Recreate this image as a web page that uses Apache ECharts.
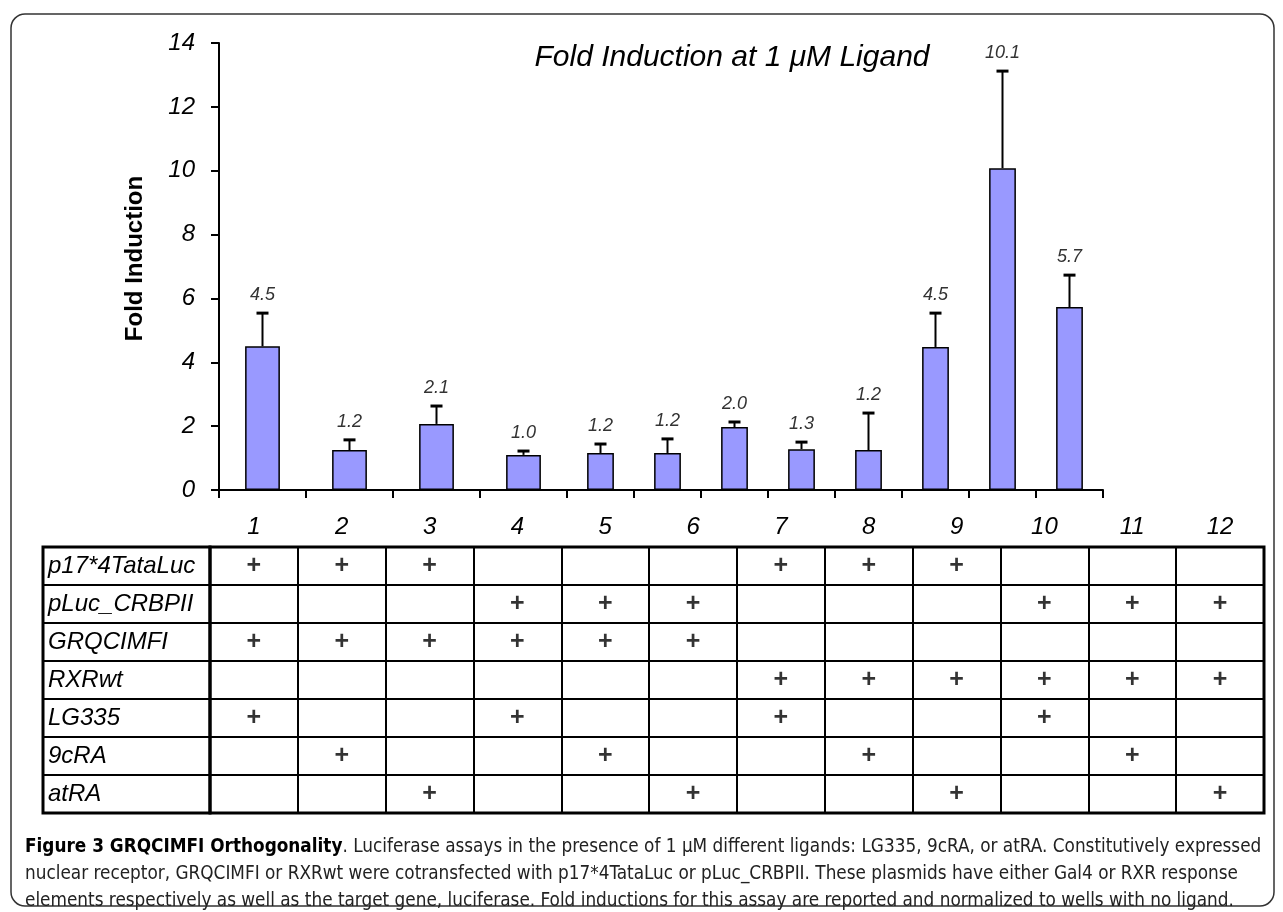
<!DOCTYPE html>
<html>
<head>
<meta charset="utf-8">
<script src="https://cdn.jsdelivr.net/npm/echarts@6/dist/echarts.min.js"></script>
<style>html,body{margin:0;padding:0;background:#fff}#c{width:1283px;height:912px}</style>
</head>
<body>
<div id="c"></div>
<script>
// ---- data ----
var categories = ['1','2','3','4','5','6','7','8','9','10','11','12'];
var foldValues = [4.50, 1.25, 2.07, 1.10, 1.16, 1.16, 1.97, 1.28, 1.25, 4.48, 10.08, 5.73];
var errorValues = [1.04, 0.32, 0.56, 0.12, 0.28, 0.44, 0.16, 0.22, 1.16, 1.06, 3.04, 1.00];
var valueLabels = ['4.5','1.2','2.1','1.0','1.2','1.2','2.0','1.3','1.2','4.5','10.1','5.7'];
var yTicks = [0, 2, 4, 6, 8, 10, 12, 14];
var rowNames = ['p17*4TataLuc','pLuc_CRBPII','GRQCIMFI','RXRwt','LG335','9cRA','atRA'];
var p17Row   = [1,1,1,0,0,0,1,1,1,0,0,0];
var pLucRow  = [0,0,0,1,1,1,0,0,0,1,1,1];
var grqRow   = [1,1,1,1,1,1,0,0,0,0,0,0];
var rxrRow   = [0,0,0,0,0,0,1,1,1,1,1,1];
var lg335Row = [1,0,0,1,0,0,1,0,0,1,0,0];
var c9Row    = [0,1,0,0,1,0,0,1,0,0,1,0];
var atRow    = [0,0,1,0,0,1,0,0,1,0,0,1];
var titleText = 'Fold Induction at 1 \u03bcM Ligand';
var yName = 'Fold Induction';
var captionBold = 'Figure 3 GRQCIMFI Orthogonality';
var captionLines = [
  '. Luciferase assays in the presence of 1 \u00b5M different ligands: LG335, 9cRA, or atRA. Constitutively expressed',
  'nuclear receptor, GRQCIMFI or RXRwt were cotransfected with p17*4TataLuc or pLuc_CRBPII. These plasmids have either Gal4 or RXR response',
  'elements respectively as well as the target gene, luciferase. Fold inductions for this assay are reported and normalized to wells with no ligand.'
];

// ---- build ----
var SPLIT = 4; // first grid holds bars 1-4, second holds 5-12
var matrix = [p17Row, pLucRow, grqRow, rxrRow, lg335Row, c9Row, atRow];
var plusData = [];
matrix.forEach(function (row, r) {
  row.forEach(function (v, c) { if (v) plusData.push([c, r]); });
});

var FONT = 'Liberation Sans, Arial, sans-serif';
var CAPFONT = 'Liberation Sans Narrow, DejaVu Sans Condensed, sans-serif';

function errRender(offset) {
  return function (params, api) {
    var i = api.value(0);
    var v = api.value(1);
    var e = api.value(2);
    var base = api.coord([i, v]);
    var top = api.coord([i, v + e]);
    var lab = valueLabels[i + offset];
    return {
      type: 'group',
      children: [
        { type: 'line', shape: { x1: base[0], y1: base[1], x2: top[0], y2: top[1] }, style: { stroke: '#000', lineWidth: 2 } },
        { type: 'line', shape: { x1: top[0] - 6, y1: top[1], x2: top[0] + 6, y2: top[1] }, style: { stroke: '#000', lineWidth: 3 } },
        { type: 'text', x: top[0], y: top[1] - 9, style: { text: lab, fill: '#333', font: 'italic 18px ' + FONT, align: 'center', verticalAlign: 'bottom' } }
      ]
    };
  };
}

function errData(from, to) {
  var out = [];
  for (var i = from; i < to; i++) out.push([i - from, foldValues[i], errorValues[i]]);
  return out;
}

var barStyle = { color: '#9999FF', borderColor: '#000', borderWidth: 1.5 };
var xBarCommon = {
  type: 'category',
  boundaryGap: true,
  axisLine: { show: true, lineStyle: { color: '#000', width: 2 } },
  axisTick: { show: true, length: 8, interval: 0, alignWithLabel: false, lineStyle: { color: '#000', width: 2 } },
  axisLabel: { show: false },
  splitLine: { show: false }
};

var option = {
  animation: false,
  backgroundColor: '#fff',
  title: [
    { text: titleText, left: 727, top: 38, textAlign: 'center',
      textStyle: { fontFamily: FONT, fontStyle: 'italic', fontWeight: 'normal', fontSize: 30, color: '#000' } },
    { text: '{b|' + captionBold + '}{n|' + captionLines[0] + '}\n{n|' + captionLines[1] + '}\n{n|' + captionLines[2] + '}',
      left: 20, top: 829,
      textStyle: {
        rich: {
          b: { fontFamily: CAPFONT, fontWeight: 'bold', fontSize: 18.8, color: '#000', lineHeight: 27 },
          n: { fontFamily: CAPFONT, fontWeight: 'normal', fontSize: 18.8, color: '#222', lineHeight: 27 }
        }
      } }
  ],
  graphic: [
    { type: 'rect', shape: { x: 11, y: 14, width: 1263, height: 892, r: 14 }, style: { fill: 'none', stroke: '#333', lineWidth: 1.5 }, silent: true, z: -1 }
  ],
  grid: [
    { left: 219, right: 1283 - 567, top: 43, bottom: 912 - 490 },
    { left: 567, right: 1283 - 1103, top: 43, bottom: 912 - 490 },
    { left: 210, right: 1283 - 1264, top: 547, bottom: 912 - 813, show: true, borderColor: '#000', borderWidth: 3, backgroundColor: 'transparent' },
    { left: 43, right: 1283 - 210, top: 547, bottom: 912 - 813, show: true, borderColor: '#000', borderWidth: 3, backgroundColor: 'transparent' }
  ],
  xAxis: [
    Object.assign({}, xBarCommon, { gridIndex: 0, data: categories.slice(0, SPLIT) }),
    Object.assign({}, xBarCommon, { gridIndex: 1, data: categories.slice(SPLIT) }),
    { gridIndex: 2, type: 'category', position: 'top', data: categories, boundaryGap: true,
      axisLine: { show: false }, axisTick: { show: false },
      axisLabel: { interval: 0, margin: 8, fontFamily: FONT, fontStyle: 'italic', fontSize: 24, color: '#000' },
      splitLine: { show: true, interval: 0, lineStyle: { color: '#000', width: 2 } } },
    { gridIndex: 3, type: 'value', show: false, min: 0, max: 1 }
  ],
  yAxis: [
    { gridIndex: 0, type: 'value', min: yTicks[0], max: yTicks[yTicks.length - 1], interval: 2,
      name: yName, nameLocation: 'middle', nameGap: 72, nameRotate: 90,
      nameTextStyle: { fontFamily: FONT, fontWeight: 'bold', fontSize: 24, color: '#000', padding: [0, 0, 0, 16] },
      axisLine: { show: true, lineStyle: { color: '#000', width: 2 } },
      axisTick: { show: true, length: 8, lineStyle: { color: '#000', width: 2 } },
      axisLabel: { margin: 24, fontFamily: FONT, fontStyle: 'italic', fontSize: 24, color: '#000' },
      splitLine: { show: false } },
    { gridIndex: 1, type: 'value', min: yTicks[0], max: yTicks[yTicks.length - 1], interval: 2, show: false },
    { gridIndex: 2, type: 'category', inverse: true, data: rowNames,
      axisLine: { show: false }, axisTick: { show: false }, axisLabel: { show: false },
      splitLine: { show: true, interval: 0, lineStyle: { color: '#000', width: 2 } } },
    { gridIndex: 3, type: 'category', inverse: true, data: rowNames,
      axisLine: { show: false }, axisTick: { show: false },
      axisLabel: { inside: true, interval: 0, margin: 5, fontFamily: FONT, fontStyle: 'italic', fontSize: 24, color: '#000' },
      splitLine: { show: true, interval: 0, lineStyle: { color: '#000', width: 2 } } }
  ],
  series: [
    { type: 'bar', xAxisIndex: 0, yAxisIndex: 0, data: foldValues.slice(0, SPLIT), barWidth: '40%', itemStyle: barStyle, z: 2 },
    { type: 'bar', xAxisIndex: 1, yAxisIndex: 1, data: foldValues.slice(SPLIT), barWidth: '40%', itemStyle: barStyle, z: 2 },
    { type: 'custom', xAxisIndex: 0, yAxisIndex: 0, renderItem: errRender(0), data: errData(0, SPLIT), encode: { x: 0, y: 1 }, z: 3 },
    { type: 'custom', xAxisIndex: 1, yAxisIndex: 1, renderItem: errRender(SPLIT), data: errData(SPLIT, categories.length), encode: { x: 0, y: 1 }, z: 3 },
    { type: 'scatter', xAxisIndex: 2, yAxisIndex: 2, data: plusData, symbolSize: 1, itemStyle: { color: 'rgba(0,0,0,0)' },
      label: { show: true, position: 'inside', formatter: '+', fontFamily: FONT, fontWeight: 'bold', fontSize: 25, color: '#000' }, z: 5 }
  ]
};

var chart = echarts.init(document.getElementById('c'), null, { renderer: 'canvas' });
chart.setOption(option);
</script>
</body>
</html>
